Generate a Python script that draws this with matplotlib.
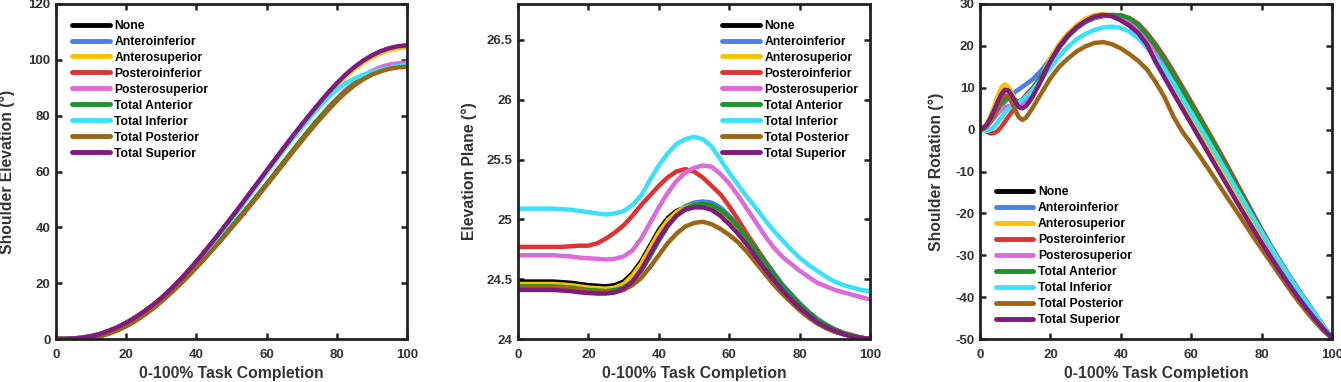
import matplotlib
matplotlib.use("Agg")
import matplotlib.pyplot as plt

plt.rcParams['font.family'] = ['Liberation Sans', 'DejaVu Sans']
plt.rcParams['font.weight'] = 'bold'

labels = ["None", "Anteroinferior", "Anterosuperior", "Posteroinferior", "Posterosuperior",
          "Total Anterior", "Total Inferior", "Total Posterior", "Total Superior"]
colors = ["#000000", "#4a80e8", "#f7c300", "#e03232", "#dc6ad9",
          "#20922c", "#3ae1fa", "#9d6616", "#7f1a7e"]

# ---------------- Panel 1: Shoulder Elevation ----------------
x1 = [0, 2.5, 5, 7.5, 10, 12.5, 15, 17.5, 20, 22.5, 25, 27.5, 30, 32.5, 35, 37.5, 40, 42.5, 45, 47.5, 50,
      52.5, 55, 57.5, 60, 62.5, 65, 67.5, 70, 72.5, 75, 77.5, 80, 82.5, 85, 87.5, 90, 92.5, 95, 97.5, 100]
elev_none    = [0, 0.05, 0.2, 0.5, 1.0, 1.8, 2.9, 4.2, 5.8, 7.6, 9.7, 12.0, 14.6, 17.5, 20.6, 24.0, 27.6, 31.4, 35.3, 39.3, 43.4,
                47.5, 51.7, 55.9, 60.1, 64.3, 68.5, 72.6, 76.6, 80.5, 84.3, 88.0, 91.4, 94.5, 97.2, 99.5, 101.4, 102.9, 104.0, 104.6, 104.9]
elev_antinf  = [0, 0, 0.05, 0.2, 0.5, 1.1, 2.0, 3.3, 4.8, 6.6, 8.7, 11.1, 13.7, 16.5, 19.5, 22.7, 26.0, 29.4, 32.9, 36.5, 40.2,
                43.9, 47.7, 51.6, 55.5, 59.5, 63.5, 67.5, 71.4, 75.2, 78.9, 82.4, 85.7, 88.6, 91.2, 93.3, 95.0, 96.3, 97.2, 97.6, 97.8]
elev_antsup  = [0, 0.05, 0.2, 0.5, 1.0, 1.8, 2.9, 4.2, 5.8, 7.6, 9.7, 12.0, 14.6, 17.5, 20.6, 24.0, 27.6, 31.4, 35.3, 39.3, 43.4,
                47.5, 51.7, 55.9, 60.1, 64.2, 68.3, 72.3, 76.2, 80.1, 83.9, 87.5, 90.9, 94.0, 96.7, 99.0, 100.9, 102.4, 103.5, 104.2, 104.5]
elev_postinf = [0, 0, 0.05, 0.2, 0.5, 1.1, 2.0, 3.2, 4.7, 6.5, 8.6, 11.0, 13.6, 16.4, 19.4, 22.5, 25.8, 29.2, 32.7, 36.3, 40.0,
                43.7, 47.5, 51.4, 55.3, 59.3, 63.3, 67.3, 71.2, 75.0, 78.7, 82.2, 85.5, 88.5, 91.1, 93.2, 94.9, 96.2, 97.1, 97.6, 97.8]
elev_postsup = [0, 0, 0.05, 0.2, 0.5, 1.1, 2.0, 3.2, 4.7, 6.5, 8.6, 11.0, 13.6, 16.4, 19.4, 22.6, 25.9, 29.3, 32.8, 36.4, 40.1,
                43.8, 47.6, 51.5, 55.4, 59.4, 63.4, 67.4, 71.4, 75.3, 79.1, 82.7, 86.1, 89.2, 91.9, 94.2, 96.0, 97.4, 98.3, 98.8, 99.0]
elev_totant  = [0, 0, 0.05, 0.2, 0.5, 1.1, 2.0, 3.3, 4.8, 6.6, 8.7, 11.1, 13.7, 16.5, 19.5, 22.7, 26.0, 29.4, 32.9, 36.5, 40.2,
                43.9, 47.7, 51.6, 55.5, 59.5, 63.6, 67.6, 71.6, 75.5, 79.2, 82.7, 85.9, 88.8, 91.3, 93.4, 95.1, 96.3, 97.2, 97.6, 97.8]
elev_totinf  = [0, 0.05, 0.2, 0.5, 1.0, 1.7, 2.8, 4.1, 5.6, 7.4, 9.4, 11.7, 14.2, 17.0, 20.1, 23.5, 27.1, 30.9, 34.8, 38.8, 42.9,
                47.0, 51.2, 55.4, 59.6, 63.8, 67.9, 71.9, 75.8, 79.6, 83.2, 86.5, 89.4, 91.6, 93.3, 94.6, 95.6, 96.5, 97.2, 97.8, 98.2]
elev_totpost = [0, 0, 0.05, 0.15, 0.45, 1.0, 1.9, 3.1, 4.6, 6.4, 8.5, 10.8, 13.4, 16.2, 19.2, 22.3, 25.6, 29.0, 32.5, 36.1, 39.8,
                43.5, 47.3, 51.2, 55.1, 59.1, 63.1, 67.1, 71.0, 74.8, 78.5, 82.0, 85.3, 88.3, 90.9, 93.0, 94.7, 95.9, 96.8, 97.3, 97.5]
elev_totsup  = [0, 0.05, 0.2, 0.5, 1.0, 1.8, 2.9, 4.2, 5.8, 7.7, 9.8, 12.1, 14.7, 17.6, 20.8, 24.2, 27.8, 31.6, 35.5, 39.5, 43.6,
                47.7, 51.9, 56.1, 60.3, 64.5, 68.7, 72.8, 76.8, 80.7, 84.5, 88.2, 91.6, 94.7, 97.4, 99.7, 101.6, 103.1, 104.2, 104.9, 105.2]

# ---------------- Panel 2: Elevation Plane ----------------
x2 = x1
plane_none    = [24.48, 24.48, 24.48, 24.48, 24.48, 24.475, 24.47, 24.46, 24.45, 24.445, 24.44, 24.45, 24.48, 24.55, 24.65, 24.78, 24.91, 25.01, 25.07, 25.10, 25.12,
                 25.12, 25.10, 25.05, 24.98, 24.90, 24.81, 24.71, 24.61, 24.51, 24.42, 24.34, 24.27, 24.21, 24.15, 24.11, 24.08, 24.05, 24.03, 24.01, 24.00]
plane_antinf  = [24.45, 24.45, 24.45, 24.45, 24.45, 24.445, 24.44, 24.43, 24.42, 24.415, 24.41, 24.42, 24.44, 24.50, 24.59, 24.71, 24.84, 24.96, 25.05, 25.11, 25.14,
                 25.15, 25.14, 25.10, 25.03, 24.95, 24.86, 24.76, 24.66, 24.56, 24.46, 24.38, 24.30, 24.23, 24.17, 24.12, 24.08, 24.05, 24.03, 24.01, 24.00]
plane_antsup  = [24.46, 24.46, 24.46, 24.46, 24.46, 24.455, 24.45, 24.44, 24.43, 24.425, 24.42, 24.43, 24.46, 24.53, 24.63, 24.76, 24.89, 24.99, 25.06, 25.10, 25.12,
                 25.12, 25.10, 25.05, 24.98, 24.90, 24.81, 24.71, 24.61, 24.51, 24.42, 24.34, 24.27, 24.21, 24.15, 24.11, 24.08, 24.05, 24.03, 24.01, 24.00]
plane_postinf = [24.77, 24.77, 24.77, 24.77, 24.77, 24.77, 24.775, 24.78, 24.78, 24.80, 24.84, 24.89, 24.95, 25.03, 25.12, 25.20, 25.28, 25.35, 25.40, 25.42, 25.40,
                 25.35, 25.28, 25.21, 25.11, 25.00, 24.88, 24.77, 24.66, 24.55, 24.45, 24.36, 24.28, 24.20, 24.14, 24.10, 24.06, 24.04, 24.02, 24.01, 24.00]
plane_postsup = [24.70, 24.70, 24.70, 24.70, 24.70, 24.695, 24.69, 24.68, 24.675, 24.67, 24.665, 24.67, 24.69, 24.74, 24.84, 24.97, 25.10, 25.22, 25.32, 25.39, 25.43,
                 25.45, 25.44, 25.38, 25.30, 25.20, 25.09, 24.98, 24.87, 24.77, 24.69, 24.63, 24.57, 24.52, 24.47, 24.44, 24.41, 24.39, 24.37, 24.35, 24.33]
plane_totant  = [24.44, 24.44, 24.44, 24.44, 24.44, 24.435, 24.43, 24.42, 24.41, 24.405, 24.40, 24.41, 24.43, 24.48, 24.57, 24.69, 24.82, 24.94, 25.03, 25.09, 25.12,
                 25.13, 25.12, 25.08, 25.02, 24.94, 24.85, 24.75, 24.65, 24.55, 24.45, 24.37, 24.29, 24.22, 24.16, 24.12, 24.08, 24.05, 24.03, 24.01, 24.00]
plane_totinf  = [25.09, 25.09, 25.09, 25.09, 25.09, 25.085, 25.08, 25.07, 25.06, 25.05, 25.04, 25.05, 25.07, 25.12, 25.20, 25.33, 25.45, 25.55, 25.63, 25.67, 25.69,
                 25.67, 25.61, 25.50, 25.39, 25.29, 25.19, 25.10, 25.00, 24.91, 24.83, 24.75, 24.68, 24.62, 24.57, 24.52, 24.48, 24.45, 24.43, 24.41, 24.40]
plane_totpost = [24.43, 24.43, 24.43, 24.43, 24.43, 24.425, 24.42, 24.41, 24.40, 24.395, 24.39, 24.39, 24.41, 24.45, 24.51, 24.60, 24.70, 24.80, 24.88, 24.94, 24.97,
                 24.98, 24.96, 24.92, 24.87, 24.81, 24.73, 24.64, 24.55, 24.46, 24.38, 24.31, 24.24, 24.18, 24.13, 24.09, 24.06, 24.04, 24.02, 24.01, 24.00]
plane_totsup  = [24.41, 24.41, 24.41, 24.41, 24.41, 24.405, 24.40, 24.39, 24.385, 24.38, 24.38, 24.39, 24.42, 24.48, 24.58, 24.71, 24.84, 24.95, 25.03, 25.08, 25.10,
                 25.10, 25.08, 25.03, 24.96, 24.88, 24.79, 24.69, 24.59, 24.50, 24.41, 24.33, 24.26, 24.20, 24.14, 24.10, 24.07, 24.04, 24.02, 24.01, 24.00]

# ---------------- Panel 3: Shoulder Rotation ----------------
x3 = [0, 1, 2, 3, 4, 5, 6, 7, 8, 9, 10, 11, 12, 13, 14, 15,
      17.5, 20, 22.5, 25, 27.5, 30, 32.5, 35, 37.5, 40, 42.5, 45, 47.5, 50, 52.5, 55, 57.5,
      60, 62.5, 65, 67.5, 70, 72.5, 75, 77.5, 80, 82.5, 85, 87.5, 90, 92.5, 95, 97.5, 100]
rot_none    = [0, 0.4, 1.3, 2.8, 4.6, 6.6, 8.4, 9.5, 9.4, 8.2, 6.7, 5.5, 5.2, 5.7, 6.8, 8.1,
               12.1, 16.4, 20.0, 22.6, 24.6, 26.1, 27.1, 27.4, 27.1, 26.2, 24.9, 23.1, 20.3, 16.2, 12.5, 8.8, 5.2,
               1.6, -2.0, -5.6, -9.2, -12.8, -16.4, -19.9, -23.4, -26.8, -30.1, -33.3, -36.4, -39.4, -42.3, -44.9, -47.4, -49.8]
rot_antinf  = [0, 0.5, 1.3, 2.3, 3.4, 4.5, 5.6, 6.6, 7.5, 8.3, 9.0, 9.6, 10.2, 10.8, 11.4, 12.0,
               14.2, 17.0, 20.0, 22.5, 24.4, 25.8, 26.7, 27.2, 27.3, 27.1, 26.3, 24.8, 22.4, 19.6, 16.4, 13.0, 9.4,
               5.8, 2.2, -1.4, -5.1, -9.0, -12.8, -16.6, -20.4, -24.1, -27.7, -31.2, -34.5, -37.7, -40.8, -43.8, -46.9, -49.8]
rot_antsup  = [0, 0.4, 1.5, 3.3, 5.5, 8.0, 10.0, 10.8, 10.3, 8.8, 7.3, 6.2, 6.0, 6.6, 7.6, 8.9,
               12.8, 17.0, 20.5, 23.0, 25.0, 26.5, 27.4, 27.6, 27.3, 26.5, 25.2, 23.5, 21.0, 17.3, 13.6, 9.9, 6.3,
               2.7, -0.9, -4.5, -8.1, -11.7, -15.3, -18.9, -22.4, -25.9, -29.3, -32.6, -35.8, -38.9, -41.8, -44.6, -47.3, -49.8]
rot_postinf = [0, 0.1, -0.5, -0.9, -0.8, -0.3, 0.6, 1.8, 3.0, 4.2, 5.3, 6.3, 7.2, 8.2, 9.1, 10.0,
               12.8, 16.0, 19.6, 22.3, 24.3, 25.7, 26.6, 27.1, 27.3, 27.3, 26.6, 25.3, 23.0, 20.3, 17.2, 13.8, 10.2,
               6.6, 3.0, -0.7, -4.4, -8.2, -12.1, -16.0, -19.9, -23.8, -27.5, -31.0, -34.4, -37.6, -40.7, -43.8, -46.9, -49.8]
rot_postsup = [0, 0.3, 0.9, 1.8, 2.8, 3.8, 4.7, 5.3, 5.6, 5.6, 5.5, 5.6, 6.0, 6.8, 7.8, 9.0,
               12.3, 16.0, 19.5, 22.2, 24.2, 25.7, 26.7, 27.2, 27.3, 26.9, 25.9, 24.2, 21.7, 18.7, 15.3, 11.8, 8.2,
               4.6, 1.0, -2.6, -6.2, -9.9, -13.6, -17.3, -20.9, -24.5, -28.0, -31.4, -34.7, -37.8, -40.9, -43.9, -46.9, -49.8]
rot_totant  = [0, 0.3, 0.9, 2.0, 3.4, 4.9, 6.3, 7.3, 7.6, 7.3, 6.9, 6.8, 7.1, 7.8, 8.7, 9.7,
               12.8, 16.3, 19.7, 22.3, 24.3, 25.8, 26.8, 27.3, 27.4, 27.3, 26.6, 25.0, 22.6, 19.8, 16.6, 13.2, 9.6,
               6.0, 2.4, -1.2, -5.0, -9.0, -12.8, -16.6, -20.4, -24.2, -27.8, -31.2, -34.5, -37.7, -40.8, -43.8, -46.9, -49.8]
rot_totinf  = [0, -0.2, -0.3, 0.0, 0.7, 1.7, 2.9, 4.0, 4.9, 5.5, 6.0, 6.5, 7.1, 7.8, 8.6, 9.5,
               12.0, 14.8, 17.5, 19.8, 21.6, 22.9, 23.8, 24.4, 24.6, 24.3, 23.4, 21.8, 19.5, 17.0, 14.2, 11.0, 7.5,
               4.0, 0.6, -2.9, -6.5, -10.1, -13.7, -17.3, -20.9, -24.4, -27.9, -31.3, -34.6, -37.8, -40.9, -43.8, -46.9, -49.8]
rot_totpost = [0, 0.2, 0.8, 2.0, 3.6, 5.4, 7.1, 8.2, 8.0, 6.6, 4.7, 3.0, 2.3, 2.8, 4.0, 5.3,
               8.8, 12.3, 15.0, 17.0, 18.7, 19.9, 20.7, 20.9, 20.4, 19.4, 18.0, 16.4, 14.3, 11.2, 7.6, 3.0, -0.5,
               -3.4, -6.4, -9.5, -12.7, -15.9, -19.0, -22.2, -25.4, -28.5, -31.5, -34.6, -37.6, -40.5, -43.2, -45.7, -48.0, -49.8]
rot_totsup  = [0, 0.4, 1.3, 2.8, 4.6, 6.6, 8.4, 9.5, 9.4, 8.2, 6.7, 5.4, 5.1, 5.6, 6.7, 8.0,
               12.0, 16.3, 19.9, 22.5, 24.5, 26.0, 27.0, 27.4, 27.1, 26.1, 24.8, 23.0, 20.2, 16.0, 12.3, 8.6, 5.0,
               1.4, -2.2, -5.8, -9.4, -13.0, -16.6, -20.1, -23.6, -27.0, -30.3, -33.5, -36.6, -39.6, -42.4, -45.0, -47.5, -49.8]

elev = [elev_none, elev_antinf, elev_antsup, elev_postinf, elev_postsup, elev_totant, elev_totinf, elev_totpost, elev_totsup]
plane = [plane_none, plane_antinf, plane_antsup, plane_postinf, plane_postsup, plane_totant, plane_totinf, plane_totpost, plane_totsup]
rot = [rot_none, rot_antinf, rot_antsup, rot_postinf, rot_postsup, rot_totant, rot_totinf, rot_totpost, rot_totsup]

W, H = 1341, 382
fig = plt.figure(figsize=(W / 100, H / 100), dpi=100)

def px_axes(l, r, t, b):
    return fig.add_axes([l / W, 1 - b / H, (r - l) / W, (b - t) / H])

gray = "#333333"
panels = [
    dict(rect=(56, 407, 4, 339), x=x1, ys=elev, ylim=(0, 120), yticks=[0, 20, 40, 60, 80, 100, 120],
         ylabel="Shoulder Elevation (°)", leg=(0.046, 0.953), ylx=-0.139),
    dict(rect=(518, 870, 4, 339), x=x2, ys=plane, ylim=(24, 26.8), yticks=[24, 24.5, 25, 25.5, 26, 26.5],
         ylabel="Elevation Plane (°)", leg=(0.58, 0.953), ylx=-0.139),
    dict(rect=(980, 1332, 4, 339), x=x3, ys=rot, ylim=(-50, 30), yticks=[-50, -40, -30, -20, -10, 0, 10, 20, 30],
         ylabel="Shoulder Rotation (°)", leg=(0.045, 0.457), ylx=-0.124),
]

for p in panels:
    ax = px_axes(*p["rect"])
    for lab, col, y in zip(labels, colors, p["ys"]):
        ax.plot(p["x"], y, color=col, lw=3.2, label=lab, solid_capstyle='round', solid_joinstyle='round')
    ax.set_xlim(0, 100)
    ax.set_ylim(*p["ylim"])
    ax.set_xticks([0, 20, 40, 60, 80, 100])
    ax.set_yticks(p["yticks"])
    ax.set_yticklabels([("%g" % v) for v in p["yticks"]])
    ax.tick_params(direction='in', length=4, width=1.8, top=True, right=True,
                   labelsize=9.5, colors='#222222', labelcolor=gray)
    ax.tick_params(axis='x', pad=7)
    ax.tick_params(axis='y', pad=4)
    for s in ax.spines.values():
        s.set_linewidth(2.0)
        s.set_color('#222222')
    for t in ax.get_xticklabels() + ax.get_yticklabels():
        t.set_fontweight('bold')
    ax.set_xlabel("0-100% Task Completion", fontsize=11.3, fontweight='bold', color=gray, va='center')
    ax.xaxis.set_label_coords(0.5, -0.1015)
    ax.set_ylabel(p["ylabel"], fontsize=11.3, fontweight='bold', color=gray, va='center')
    ax.yaxis.set_label_coords(p["ylx"], 0.5)
    leg = ax.legend(loc='upper left', bbox_to_anchor=p["leg"], frameon=False, borderpad=0,
                    borderaxespad=0, handlelength=3.1, handletextpad=0.4, labelspacing=0.33,
                    prop=dict(size=8.7, weight='bold'))
    for line in leg.get_lines():
        line.set_linewidth(3.5)

fig.savefig("out.png", dpi=100)
